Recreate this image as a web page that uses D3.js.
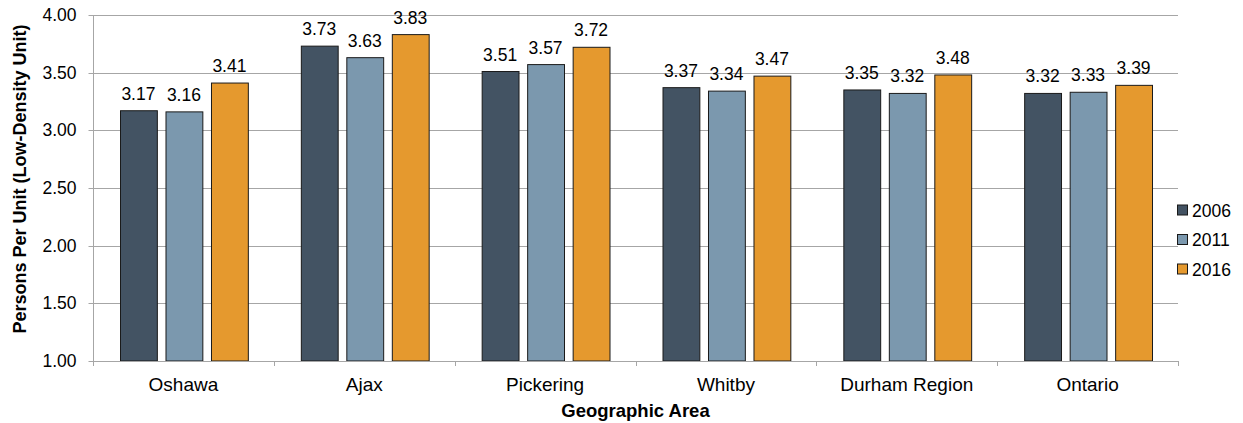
<!DOCTYPE html>
<html>
<head>
<meta charset="utf-8">
<script src="https://cdn.jsdelivr.net/npm/d3@7"></script>
<style>
  html, body { margin: 0; padding: 0; background: #fff; }
  svg { display: block; font-family: "Liberation Sans", Arial, sans-serif; }
</style>
</head>
<body>
<svg id="chart" width="1243" height="423"></svg>
<script>
// Persons per low-density unit by area and census year
const areas = ["Oshawa", "Ajax", "Pickering", "Whitby", "Durham Region", "Ontario"];
const years = ["2006", "2011", "2016"];
const values2006 = [3.17, 3.73, 3.51, 3.37, 3.35, 3.32];
const values2011 = [3.16, 3.63, 3.57, 3.34, 3.32, 3.33];
const values2016 = [3.41, 3.83, 3.72, 3.47, 3.48, 3.39];
const yTicks = [1.0, 1.5, 2.0, 2.5, 3.0, 3.5, 4.0];
const colors = ["#435363", "#7b98ae", "#e5992e"];

const series = [values2006, values2011, values2016];
const FS = 17.5;

const svg = d3.select("#chart");
const margin = { left: 93, right: 65, top: 15, bottom: 62 };
const W = 1243, H = 423;
const x0 = margin.left, x1 = W - margin.right;
const yTop = margin.top, yBot = H - margin.bottom;

const x = d3.scaleBand().domain(areas).range([x0, x1]).paddingInner(0).paddingOuter(0);
const xi = d3.scaleBand().domain(years).range([27, x.bandwidth() - 26]).paddingInner(0.19);
const y = d3.scaleLinear().domain([1, 4]).range([yBot, yTop]);

// horizontal gridlines
svg.append("g").selectAll("line").data(yTicks.filter(t => t > 1)).join("line")
  .attr("x1", x0).attr("x2", x1)
  .attr("y1", d => Math.round(y(d)) + 0.5).attr("y2", d => Math.round(y(d)) + 0.5)
  .attr("stroke", "#a6a6a6").attr("stroke-width", 1);

// y axis
const yAxis = svg.append("g").attr("transform", `translate(${x0 + 0.5},0)`)
  .call(d3.axisLeft(y).tickValues(yTicks).tickFormat(d3.format(".2f")).tickSize(5).tickPadding(12));
yAxis.select(".domain").attr("stroke", "#a6a6a6").attr("d", `M0,${yTop}V${yBot}`);
yAxis.selectAll(".tick line").attr("stroke", "#a6a6a6");
yAxis.selectAll(".tick").attr("transform", d => `translate(0,${Math.round(y(d)) + 0.5})`);
yAxis.selectAll("text").attr("font-size", FS).attr("fill", "#000")
  .attr("font-family", "Liberation Sans, Arial, sans-serif");

// bars
const groups = svg.append("g").selectAll("g").data(areas).join("g")
  .attr("transform", d => `translate(${x(d)},0)`);
groups.selectAll("rect").data((a, i) => years.map((yr, k) => ({ yr, k, v: series[k][i] }))).join("rect")
  .attr("x", d => xi(d.yr) + 0.5)
  .attr("width", xi.bandwidth())
  .attr("y", d => y(d.v))
  .attr("height", d => yBot - y(d.v))
  .attr("fill", d => colors[d.k])
  .attr("stroke", "#1a1a1a").attr("stroke-width", 1);

// value labels
groups.selectAll("text.val").data((a, i) => years.map((yr, k) => ({ yr, k, v: series[k][i] }))).join("text")
  .attr("class", "val")
  .attr("x", d => xi(d.yr) + xi.bandwidth() / 2)
  .attr("y", d => y(d.v) - 11)
  .attr("text-anchor", "middle")
  .attr("font-size", FS)
  .attr("fill", "#000")
  .text(d => d.v.toFixed(2));

// x axis
const xAxis = svg.append("g").attr("transform", `translate(0,${Math.round(yBot) + 0.5})`)
  .call(d3.axisBottom(x).tickSize(0).tickPadding(16));
xAxis.select(".domain").attr("stroke", "#a6a6a6").attr("d", `M${x0},0H${x1}`);
xAxis.selectAll("text").attr("font-size", 19).attr("fill", "#000")
  .attr("font-family", "Liberation Sans, Arial, sans-serif");
// category separator ticks
svg.append("g").selectAll("line").data(d3.range(areas.length + 1)).join("line")
  .attr("x1", i => Math.round(x0 + i * x.bandwidth()) + 0.5)
  .attr("x2", i => Math.round(x0 + i * x.bandwidth()) + 0.5)
  .attr("y1", Math.round(yBot)).attr("y2", Math.round(yBot) + 5)
  .attr("stroke", "#a6a6a6");

// axis titles
svg.append("text")
  .attr("x", (x0 + x1) / 2).attr("y", 417)
  .attr("text-anchor", "middle").attr("font-size", 18.5).attr("font-weight", "bold")
  .text("Geographic Area");
svg.append("text")
  .attr("transform", `translate(26,179) rotate(-90)`)
  .attr("text-anchor", "middle").attr("font-size", 18).attr("font-weight", "bold")
  .text("Persons Per Unit (Low-Density Unit)");

// legend
const legend = svg.append("g").selectAll("g").data(years).join("g")
  .attr("transform", (d, i) => `translate(1177,${210.5 + i * 29.5})`);
legend.append("rect").attr("x", 0.5).attr("y", -5.5).attr("width", 10).attr("height", 10)
  .attr("fill", (d, i) => colors[i]).attr("stroke", "#1a1a1a");
legend.append("text").attr("x", 15).attr("y", 0).attr("dy", "0.35em")
  .attr("font-size", FS).attr("fill", "#000").text(d => d);
</script>
</body>
</html>
